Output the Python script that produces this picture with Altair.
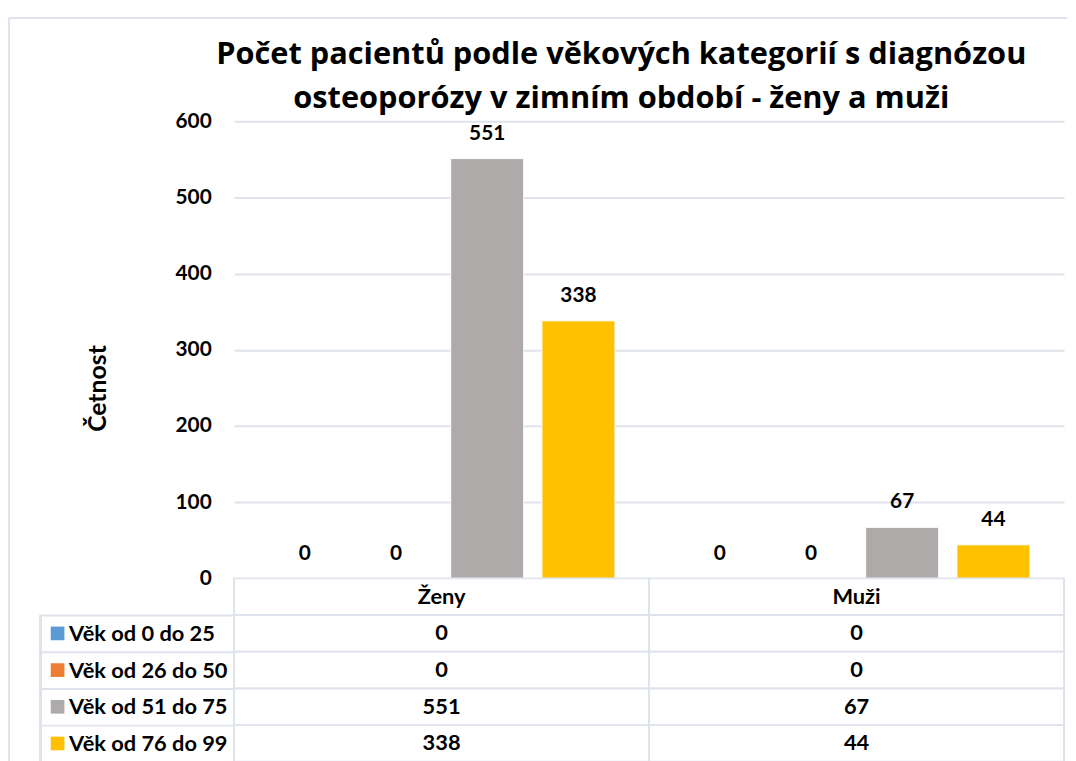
import altair as alt
import pandas as pd

groups = ["Ženy", "Muži"]
series = ["Věk od 0 do 25", "Věk od 26 do 50", "Věk od 51 do 75", "Věk od 76 do 99"]
zeny = [0, 0, 551, 338]
muzi = [0, 0, 67, 44]
colors = ["#5B9BD5", "#ED7D31", "#AEAAAA", "#FFC000"]
y_ticks = [0, 100, 200, 300, 400, 500, 600]

title_lines = ["Počet pacientů podle věkových kategorií s diagnózou",
               "osteoporózy v zimním období - ženy a muži"]
y_title = "Četnost"

FONT = "Lato"
GRID = "#dfe3eb"
W, H = 837, 461
ROW = 37

rows = []
for g, vals in zip(groups, [zeny, muzi]):
    for s, v in zip(series, vals):
        rows.append({"group": g, "series": s, "value": v})
df = pd.DataFrame(rows)

hdr = "hdr"
trows = [hdr] + series
tab = [{"group": g, "row": hdr, "label": g} for g in groups]
tab += [{"group": r["group"], "row": r["series"], "label": str(r["value"])} for r in rows]
tdf = pd.DataFrame(tab)

xscale = alt.Scale(domain=groups, paddingInner=0, paddingOuter=0)
xoff = alt.Scale(domain=series, paddingInner=0.2, paddingOuter=0.374)
cscale = alt.Scale(domain=series, range=colors)

base = alt.Chart(df)
bars = base.mark_bar(stroke="white", strokeWidth=1).encode(
    x=alt.X("group:N", scale=xscale, axis=None, sort=groups),
    xOffset=alt.XOffset("series:N", scale=xoff, sort=series),
    y=alt.Y("value:Q", scale=alt.Scale(domain=[0, 600], nice=False),
            axis=alt.Axis(values=y_ticks, title=y_title, grid=True, gridColor=GRID,
                          gridWidth=2, ticks=False, domain=False, labelFontSize=21,
                          labelFontWeight="bold", labelColor="black", labelPadding=23,
                          titleFontSize=25, titleFontWeight="bold", titleColor="black",
                          titleX=-125, titleY=269)),
    color=alt.Color("series:N", scale=cscale, legend=None),
)
labels = base.mark_text(fontSize=21, fontWeight="bold", baseline="middle", dy=-25,
                        color="black").encode(
    x=alt.X("group:N", scale=xscale, sort=groups),
    xOffset=alt.XOffset("series:N", scale=xoff, sort=series),
    y=alt.Y("value:Q"),
    text=alt.Text("value:Q"),
)

chart_top = alt.layer(bars, labels).properties(
    width=W, height=H,
    title=alt.TitleParams(title_lines, anchor="middle", fontSize=31, fontWeight="bold",
                          font="Open Sans", color="black", lineHeight=45, dx=-28,
                          offset=-36, baseline="bottom"),
)

tbase = alt.Chart(tdf)
yt = alt.Y("row:N", scale=alt.Scale(domain=trows, paddingInner=0, paddingOuter=0),
           sort=trows,
           axis=alt.Axis(values=series, title=None, domain=False, tickBand="extent",
                         tickSize=195, tickColor=GRID, tickWidth=2, labelAlign="left",
                         labelPadding=-28, labelFontSize=22, labelFontWeight="bold",
                         labelColor="black"))
cells = tbase.mark_rect(fill="white", stroke=GRID, strokeWidth=2).encode(
    x=alt.X("group:N", scale=xscale, axis=None, sort=groups), y=yt)
ttext = tbase.mark_text(fontSize=22, fontWeight="bold", color="black").encode(
    x=alt.X("group:N", scale=xscale, sort=groups), y=alt.Y("row:N"), text="label:N")
squares = alt.Chart(df[df["group"] == groups[0]]).mark_point(
    shape="square", filled=True, size=190, opacity=1).encode(
    x=alt.value(-178), y=alt.Y("series:N"),
    color=alt.Color("series:N", scale=cscale, legend=None))
tleft = tbase.mark_rule(color=GRID, strokeWidth=2).encode(
    x=alt.value(-195), y=alt.value(ROW), y2=alt.value(5 * ROW))
frame_top = tbase.mark_rule(color=GRID, strokeWidth=2).encode(
    x=alt.value(-227), x2=alt.value(W + 3), y=alt.value(-H - 104))
frame_left = tbase.mark_rule(color=GRID, strokeWidth=2).encode(
    x=alt.value(-227), y=alt.value(-H - 104), y2=alt.value(5 * ROW))

chart_tab = alt.layer(frame_top, frame_left, cells, ttext, squares, tleft).properties(
    width=W, height=5 * ROW)

chart = alt.vconcat(chart_top, chart_tab, spacing=0, bounds="flush").properties(
    padding={"left": 0, "top": 6, "right": 0, "bottom": 0}
).configure(font=FONT).configure_view(stroke=None)

chart.save("out.html", embed_options={"renderer": "svg", "actions": False})
